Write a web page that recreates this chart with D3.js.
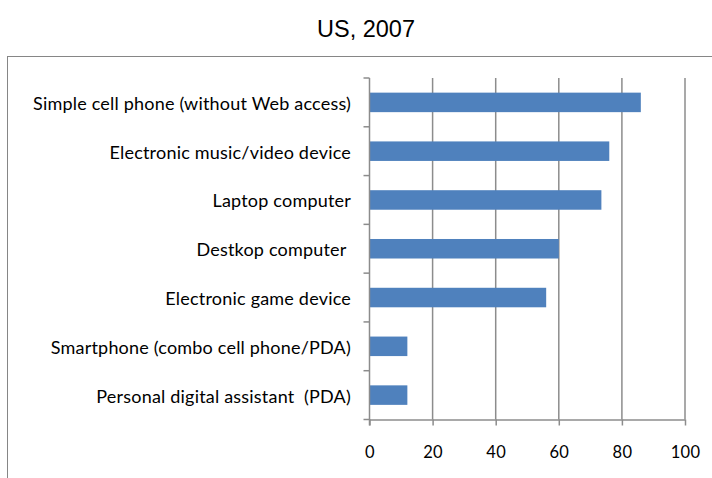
<!DOCTYPE html>
<html>
<head>
<meta charset="utf-8">
<script src="https://cdn.jsdelivr.net/npm/d3@7"></script>
<style>
  html, body { margin: 0; padding: 0; background: #fff; }
  svg { display: block; }
</style>
</head>
<body>
<svg id="chart" width="712" height="478"></svg>
<script>
// Device ownership, US 2007 (percent)
const categories = [
  "Simple cell phone (without Web access)",
  "Electronic music/video device",
  "Laptop computer",
  "Destkop computer ",
  "Electronic game device",
  "Smartphone (combo cell phone/PDA)",
  "Personal digital assistant  (PDA)"
];
const values = [86, 76, 73.5, 60, 56, 12, 12];
const xTicks = [0, 20, 40, 60, 80, 100];
const title = "US, 2007";

const svg = d3.select("#chart");
const plot = { left: 369.5, right: 685, top: 78, bottom: 419.5 };
const labelFont = "Lato, Carlito, Calibri, sans-serif";

// Outer chart frame
svg.append("rect")
  .attr("x", 7.5).attr("y", 56.5)
  .attr("width", 720).attr("height", 440)
  .attr("fill", "#fff").attr("stroke", "#868686").attr("stroke-width", 1);

svg.append("text")
  .attr("x", 366).attr("y", 37)
  .attr("text-anchor", "middle")
  .attr("font-family", "Liberation Sans, Arial, sans-serif")
  .attr("font-size", 23.5)
  .attr("fill", "#000")
  .text(title);

const x = d3.scaleLinear().domain([0, 100]).range([plot.left, plot.right]);
const y = d3.scaleBand().domain(categories).range([plot.top, plot.bottom])
  .paddingInner(0.6).paddingOuter(0.3);
const yb = d3.scaleBand().domain(categories).range([plot.top, plot.bottom]);

// Vertical gridlines
svg.append("g")
  .selectAll("line")
  .data(xTicks.filter(t => t > 0))
  .join("line")
  .attr("x1", d => x(d)).attr("x2", d => x(d))
  .attr("y1", plot.top).attr("y2", plot.bottom)
  .attr("stroke", "#8c8c8c").attr("stroke-width", 1.5);

// Bars
svg.append("g")
  .selectAll("rect")
  .data(categories)
  .join("rect")
  .attr("x", x(0))
  .attr("y", d => y(d))
  .attr("width", (d, i) => x(values[i]) - x(0))
  .attr("height", y.bandwidth())
  .attr("fill", "#4f81bd");

// X axis
const xAxis = svg.append("g")
  .attr("transform", `translate(0,${plot.bottom})`)
  .call(d3.axisBottom(x).tickValues(xTicks).tickSize(6).tickPadding(21).tickSizeOuter(0));
xAxis.select(".domain").attr("stroke", "#8c8c8c").attr("stroke-width", 1.5);
xAxis.selectAll(".tick line").attr("stroke", "#8c8c8c").attr("stroke-width", 1.5);
xAxis.selectAll(".tick text")
  .attr("font-family", labelFont)
  .attr("font-size", 16.5)
  .attr("letter-spacing", 0.3)
  .attr("fill", "#000");

// Y axis line with category boundary ticks
const yAxisG = svg.append("g");
yAxisG.append("line")
  .attr("x1", plot.left).attr("x2", plot.left)
  .attr("y1", plot.top).attr("y2", plot.bottom + 6)
  .attr("stroke", "#8c8c8c").attr("stroke-width", 1.5);
const boundaries = categories.map(c => yb(c)).concat([plot.bottom]);
yAxisG.selectAll("line.tk")
  .data(boundaries)
  .join("line").attr("class", "tk")
  .attr("x1", plot.left - 6).attr("x2", plot.left)
  .attr("y1", d => d).attr("y2", d => d)
  .attr("stroke", "#8c8c8c").attr("stroke-width", 1.5);

// Category labels
svg.append("g")
  .selectAll("text")
  .data(categories)
  .join("text")
  .attr("x", 351)
  .attr("y", d => y(d) + y.bandwidth() / 2 + 7.5)
  .attr("text-anchor", "end")
  .attr("font-family", labelFont)
  .attr("font-size", 18)
  .attr("letter-spacing", 0.2)
  .attr("fill", "#000")
  .style("white-space", "pre")
  .text(d => d);
</script>
</body>
</html>
